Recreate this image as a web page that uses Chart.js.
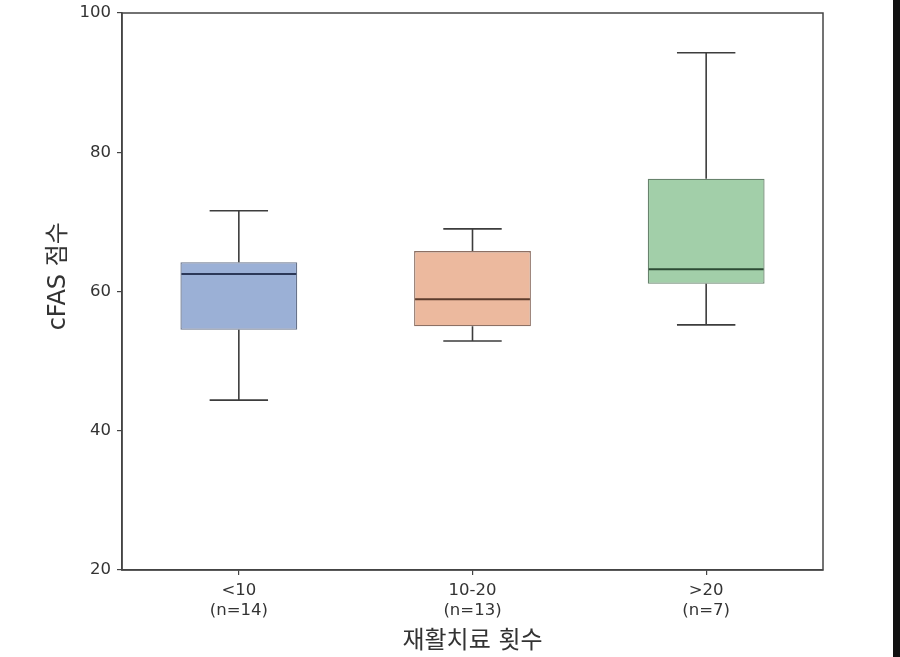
<!DOCTYPE html>
<html>
<head>
<meta charset="utf-8">
<script src="https://cdn.jsdelivr.net/npm/chart.js@4"></script>
<style>
  html, body { margin: 0; padding: 0; background: #fff; }
  #wrap { position: relative; width: 900px; height: 657px; }
  #edge { position: absolute; right: 0; top: 0; width: 7px; height: 657px; background: #111; }
</style>
</head>
<body>
<div id="wrap">
  <canvas id="myChart"></canvas>
  <div id="edge"></div>
</div>
<script>
const categories = [['<10', '(n=14)'], ['10-20', '(n=13)'], ['>20', '(n=7)']];
const whiskerLow = [44.4, 52.9, 55.2];
const q1 = [54.5, 55.0, 61.1];
const median = [62.5, 58.9, 63.2];
const q3 = [64.2, 65.8, 76.2];
const whiskerHigh = [71.6, 69.0, 94.3];
const yTicks = [20, 40, 60, 80, 100];

const boxColors = ['#9bb0d6', '#ecb99e', '#a2cfa9'];
const boxEdges = ['#68738a', '#8c7064', '#67836c'];
const medianColors = ['#2c3858', '#5c3c2c', '#2d4b35'];
const whiskerColor = '#3d3d3d';
const fontFamily = '"DejaVu Sans", "Noto Sans CJK KR", sans-serif';

// whiskers, caps and medians drawn through the chart scales
const boxExtras = {
  id: 'boxExtras',
  afterDatasetsDraw(chart) {
    const ctx = chart.ctx;
    const x = chart.scales.x, y = chart.scales.y;
    const meta = chart.getDatasetMeta(0);
    ctx.save();
    categories.forEach(function (c, i) {
      const cx = x.getPixelForValue(i);
      const half = meta.data[i].width / 2;
      const cap = half / 2;
      ctx.strokeStyle = whiskerColor;
      ctx.lineWidth = 1.6;
      ctx.beginPath();
      ctx.moveTo(cx, y.getPixelForValue(q3[i]));
      ctx.lineTo(cx, y.getPixelForValue(whiskerHigh[i]));
      ctx.moveTo(cx - cap, y.getPixelForValue(whiskerHigh[i]));
      ctx.lineTo(cx + cap, y.getPixelForValue(whiskerHigh[i]));
      ctx.moveTo(cx, y.getPixelForValue(q1[i]));
      ctx.lineTo(cx, y.getPixelForValue(whiskerLow[i]));
      ctx.moveTo(cx - cap, y.getPixelForValue(whiskerLow[i]));
      ctx.lineTo(cx + cap, y.getPixelForValue(whiskerLow[i]));
      ctx.stroke();
      ctx.strokeStyle = medianColors[i];
      ctx.lineWidth = 2;
      ctx.beginPath();
      ctx.moveTo(cx - half + 1, y.getPixelForValue(median[i]));
      ctx.lineTo(cx + half - 1, y.getPixelForValue(median[i]));
      ctx.stroke();
    });
    // frame around the plot area
    const a = chart.chartArea;
    ctx.strokeStyle = '#444';
    ctx.lineWidth = 1.5;
    ctx.strokeRect(a.left, a.top, a.right - a.left, a.bottom - a.top);
    ctx.restore();
  }
};

const canvas = document.getElementById('myChart');
canvas.width = 900;
canvas.height = 657;

new Chart(canvas.getContext('2d'), {
  type: 'bar',
  data: {
    labels: categories,
    datasets: [{
      label: 'cFAS',
      data: q1.map((v, i) => [v, q3[i]]),
      backgroundColor: boxColors,
      borderColor: boxEdges,
      borderWidth: 1.3,
      borderSkipped: false,
      barPercentage: 0.5,
      categoryPercentage: 1.0
    }]
  },
  options: {
    responsive: false,
    animation: false,
    devicePixelRatio: 1,
    layout: { padding: { left: 0, top: 13, right: 77, bottom: 0 } },
    plugins: {
      legend: { display: false },
      tooltip: { enabled: false }
    },
    scales: {
      x: {
        offset: true,
        afterFit: s => { s.height = 87; s.paddingLeft = 0; s.paddingRight = 0; },
        grid: { offset: false, drawOnChartArea: false, drawTicks: true, tickLength: 5, color: '#444', lineWidth: 1.2 },
        border: { display: true, color: '#444', width: 1.5 },
        ticks: { color: '#333', font: { family: fontFamily, size: 16.5, lineHeight: 1.25 }, padding: 5 },
        title: {
          display: true,
          text: '재활치료 횟수',
          color: '#333',
          font: { family: fontFamily, size: 24 },
          padding: { top: 0, bottom: 1 }
        }
      },
      y: {
        min: 20,
        max: 100,
        afterFit: s => { s.width = 122; s.paddingTop = 0; s.paddingBottom = 0; },
        afterBuildTicks: s => { s.ticks = yTicks.map(v => ({ value: v })); },
        grid: { drawOnChartArea: false, drawTicks: true, tickLength: 5, color: '#444', lineWidth: 1.2 },
        border: { display: true, color: '#444', width: 1.5 },
        ticks: { color: '#333', font: { family: fontFamily, size: 16.5 }, padding: 6 },
        title: {
          display: true,
          text: '    cFAS 점수',
          color: '#333',
          font: { family: fontFamily, size: 24 },
          padding: { top: 44, bottom: 0 }
        }
      }
    }
  },
  plugins: [boxExtras]
});
</script>
</body>
</html>
